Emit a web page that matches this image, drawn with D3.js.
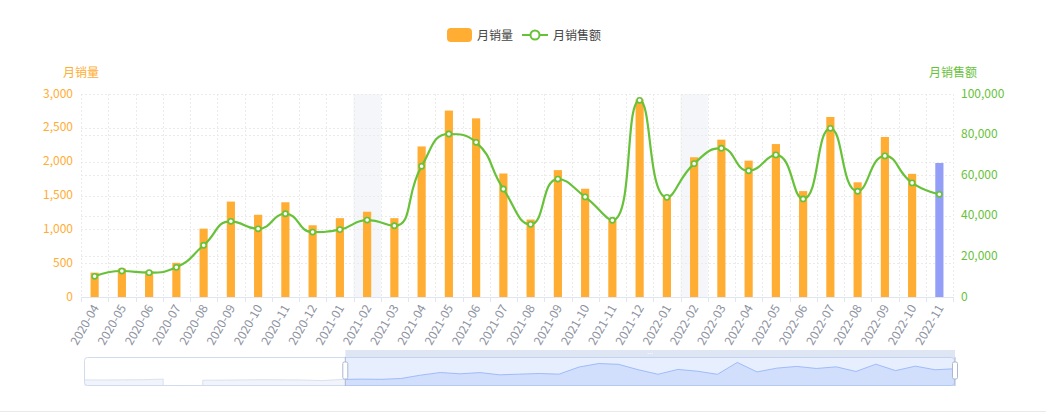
<!DOCTYPE html>
<html><head><meta charset="utf-8">
<script src="https://cdn.jsdelivr.net/npm/d3@7/dist/d3.min.js"></script>
<style>
html,body{margin:0;padding:0;background:#fff;}
svg{display:block;font-family:"Noto Sans CJK SC","Noto Sans",sans-serif;}
</style></head><body>
<svg id="chart" width="1046" height="413"></svg>
<script>
// ---------- data ----------
const categories = ["2020-04","2020-05","2020-06","2020-07","2020-08","2020-09","2020-10","2020-11","2020-12",
  "2021-01","2021-02","2021-03","2021-04","2021-05","2021-06","2021-07","2021-08","2021-09","2021-10","2021-11","2021-12",
  "2022-01","2022-02","2022-03","2022-04","2022-05","2022-06","2022-07","2022-08","2022-09","2022-10","2022-11"];
const salesVolume = [360,420,385,505,1010,1410,1215,1400,1060,
  1165,1260,1165,2225,2755,2640,1825,1145,1875,1600,1140,2920,
  1500,2065,2325,2015,2260,1565,2660,1695,2365,1820,1980];
const salesAmount = [10200,12800,12000,14600,25500,37300,33600,41000,32000,
  33200,37900,35100,64400,80300,76200,53200,35800,58100,49300,37800,96900,
  49100,65700,73300,62200,70000,48300,83100,52100,69500,56200,50600];
// earlier months, only visible in the zoom slider's data shadow (null = missing)
const earlierVolume = [300,290,310,330,420,null,250,270,300,330,310,290,200];
const leftTicks = [0,500,1000,1500,2000,2500,3000];
const rightTicks = [0,20000,40000,60000,80000,100000];
const shadedMonths = ["2021-02","2022-02"];
const specialBarMonth = "2022-11";
const legendItems = ["月销量","月销售额"];
const axisNames = ["月销量","月销售额"];

// ---------- styles ----------
const ORANGE = "#ffad33", GREEN = "#67c23a", BLUE_BAR = "#939ef7";
const grid = {left:81, right:953, top:94, bottom:297};

const svg = d3.select("#chart");
const x = d3.scaleBand().domain(categories).range([grid.left, grid.right]).paddingInner(0).paddingOuter(0);
const yL = d3.scaleLinear().domain([0,3000]).range([grid.bottom, grid.top]);
const yR = d3.scaleLinear().domain([0,100000]).range([grid.bottom, grid.top]);
const fmt = d3.format(",");

// shaded bands
svg.append("g").selectAll("rect").data(shadedMonths).join("rect")
  .attr("x", d=>x(d)).attr("y", grid.top).attr("width", x.bandwidth()).attr("height", grid.bottom-grid.top)
  .attr("fill", "#f4f6fa");

// grid lines
const gl = svg.append("g").attr("stroke","#ebebeb").attr("stroke-dasharray","2,2").attr("stroke-width",1);
gl.selectAll(".hl").data(leftTicks.slice(1)).join("line")
  .attr("x1",grid.left).attr("x2",grid.right).attr("y1",d=>Math.round(yL(d))+0.5).attr("y2",d=>Math.round(yL(d))+0.5);
gl.selectAll(".hr").data(rightTicks.slice(1)).join("line")
  .attr("x1",grid.left).attr("x2",grid.right).attr("y1",d=>Math.round(yR(d))+0.5).attr("y2",d=>Math.round(yR(d))+0.5);
const bounds = categories.map(c=>x(c)).concat([grid.right]);
gl.selectAll(".v").data(bounds).join("line")
  .attr("x1",d=>Math.round(d)+0.5).attr("x2",d=>Math.round(d)+0.5).attr("y1",grid.top).attr("y2",grid.bottom);

// x axis line and ticks
svg.append("line").attr("x1",grid.left).attr("x2",grid.right).attr("y1",grid.bottom+0.5).attr("y2",grid.bottom+0.5)
  .attr("stroke","#e0e6f1");
svg.append("g").selectAll("line").data(bounds).join("line")
  .attr("x1",d=>Math.round(d)+0.5).attr("x2",d=>Math.round(d)+0.5).attr("y1",grid.bottom).attr("y2",grid.bottom+5)
  .attr("stroke","#e0e6f1");

// bars
const bw = x.bandwidth()*0.3;
svg.append("g").selectAll("rect").data(categories).join("rect")
  .attr("x", (d)=>x(d)+x.bandwidth()/2-bw/2)
  .attr("y", (d,i)=>yL(salesVolume[i]))
  .attr("width", bw)
  .attr("height", (d,i)=>grid.bottom-yL(salesVolume[i]))
  .attr("fill", d=> d===specialBarMonth ? BLUE_BAR : ORANGE);

// smooth line (ECharts-style smoothing)
function smoothPath(pts, smooth){
  const p = d3.path();
  let cpx0, cpy0, prevX, prevY;
  const clamp=(v,a,b)=>Math.max(Math.min(v,Math.max(a,b)),Math.min(a,b));
  for(let i=0;i<pts.length;i++){
    const [px,py]=pts[i];
    if(i===0){p.moveTo(px,py);cpx0=px;cpy0=py;}
    else{
      let cpx1,cpy1,ncx,ncy;
      if(i===pts.length-1){cpx1=px;cpy1=py;ncx=px;ncy=py;}
      else{
        const [nx,ny]=pts[i+1];
        let vx=nx-prevX, vy=ny-prevY;
        const lp=Math.hypot(px-prevX,py-prevY), ln=Math.hypot(nx-px,ny-py);
        const r=ln/(ln+lp);
        ncx=px+vx*smooth*r; ncy=py+vy*smooth*r;
        ncx=clamp(ncx,nx,px); ncy=clamp(ncy,ny,py);
        vx=ncx-px; vy=ncy-py;
        cpx1=px-vx*lp/ln; cpy1=py-vy*lp/ln;
        cpx1=clamp(cpx1,prevX,px); cpy1=clamp(cpy1,prevY,py);
        vx=px-cpx1; vy=py-cpy1;
        ncx=px+vx*ln/lp; ncy=py+vy*ln/lp;
      }
      p.bezierCurveTo(cpx0,cpy0,cpx1,cpy1,px,py);
      cpx0=ncx;cpy0=ncy;
    }
    prevX=px;prevY=py;
  }
  return p.toString();
}
const linePts = categories.map((c,i)=>[x(c)+x.bandwidth()/2, yR(salesAmount[i])]);
svg.append("path").attr("d", smoothPath(linePts,0.5)).attr("fill","none").attr("stroke",GREEN).attr("stroke-width",2.2);
svg.append("g").selectAll("circle").data(linePts).join("circle")
  .attr("cx",d=>d[0]).attr("cy",d=>d[1]).attr("r",2.6)
  .attr("fill","#fff").attr("stroke",GREEN).attr("stroke-width",1.6);

// y axis labels
svg.append("g").selectAll("text").data(leftTicks).join("text")
  .attr("x",grid.left-8).attr("y",d=>yL(d)-2).attr("text-anchor","end").attr("dominant-baseline","central")
  .attr("font-size",12).attr("fill",ORANGE).text(d=>fmt(d));
svg.append("g").selectAll("text").data(rightTicks).join("text")
  .attr("x",grid.right+8).attr("y",d=>yR(d)-2).attr("text-anchor","start").attr("dominant-baseline","central")
  .attr("font-size",12).attr("fill",GREEN).text(d=>fmt(d));
svg.append("text").attr("x",grid.left).attr("y",71).attr("text-anchor","middle").attr("dominant-baseline","central")
  .attr("font-size",12).attr("fill",ORANGE).text(axisNames[0]);
svg.append("text").attr("x",grid.right).attr("y",71).attr("text-anchor","middle").attr("dominant-baseline","central")
  .attr("font-size",12).attr("fill",GREEN).text(axisNames[1]);

// x labels rotated
svg.append("g").selectAll("text").data(categories).join("text")
  .attr("transform",d=>`translate(${x(d)+x.bandwidth()/2},${grid.bottom+8}) rotate(-60)`)
  .attr("text-anchor","end").attr("dominant-baseline","central")
  .attr("font-size",12).attr("fill","#8c91a0").text(d=>d);

// legend
const lg = svg.append("g");
lg.append("rect").attr("x",447).attr("y",28).attr("width",25).attr("height",14).attr("rx",4).attr("fill",ORANGE);
lg.append("text").attr("x",477).attr("y",34).attr("dominant-baseline","central").attr("font-size",12).attr("fill","#444").text(legendItems[0]);
lg.append("line").attr("x1",522).attr("x2",548).attr("y1",35).attr("y2",35).attr("stroke",GREEN).attr("stroke-width",2);
lg.append("circle").attr("cx",535).attr("cy",35).attr("r",4.5).attr("fill","#fff").attr("stroke",GREEN).attr("stroke-width",2);
lg.append("text").attr("x",553).attr("y",34).attr("dominant-baseline","central").attr("font-size",12).attr("fill","#444").text(legendItems[1]);

// ---------- data zoom slider ----------
const dz = {left:84, right:955, top:357, bottom:386};
const allVol = earlierVolume.concat(salesVolume);
const sx = d3.scaleLinear().domain([0, allVol.length-1]).range([dz.left, dz.right]);
const vals = allVol.filter(v=>v!=null);
const mn = d3.min(vals), mx = d3.max(vals), off=(mx-mn)*0.3;
const sy = d3.scaleLinear().domain([mn-off, mx+off]).range([dz.bottom, dz.top]);
const selStartX = dz.left + (dz.right-dz.left)*0.3;

function shadowPts(){
  const area=[]; let lastEmpty=false;
  allVol.forEach((v,i)=>{
    const empty = v==null;
    const X = sx(i), Y = empty ? dz.bottom : sy(v);
    if(empty && !lastEmpty && i){ area.push([area[area.length-1][0], dz.bottom]); }
    else if(!empty && lastEmpty){ area.push([X, dz.bottom]); }
    area.push([X,Y]); lastEmpty=empty;
  });
  return area;
}
const sp = shadowPts();
const areaPoly = [[dz.left,dz.bottom]].concat(sp).concat([[dz.right,dz.bottom]]);
const defs = svg.append("defs");
defs.append("clipPath").attr("id","unsel").append("rect").attr("x",dz.left).attr("y",dz.top).attr("width",selStartX-dz.left).attr("height",dz.bottom-dz.top);
defs.append("clipPath").attr("id","sel").append("rect").attr("x",selStartX).attr("y",dz.top).attr("width",dz.right-selStartX).attr("height",dz.bottom-dz.top);

svg.append("rect").attr("x",dz.left+0.5).attr("y",dz.top+0.5).attr("width",dz.right-dz.left-1).attr("height",dz.bottom-dz.top-1)
  .attr("rx",3).attr("fill","none").attr("stroke","#d2dbee");
const lineGen = d3.line();
svg.append("path").attr("clip-path","url(#unsel)").attr("d",lineGen(areaPoly)+"Z").attr("fill","#d2dbee").attr("fill-opacity",0.3);
svg.append("path").attr("clip-path","url(#unsel)").attr("d",lineGen(sp)).attr("fill","none").attr("stroke","#d2dbee").attr("stroke-width",0.8);
svg.append("rect").attr("x",selStartX).attr("y",dz.top).attr("width",dz.right-selStartX).attr("height",dz.bottom-dz.top)
  .attr("fill","rgba(135,175,274,0.2)");
svg.append("path").attr("clip-path","url(#sel)").attr("d",lineGen(areaPoly)+"Z").attr("fill","#8fb0f7").attr("fill-opacity",0.25);
svg.append("path").attr("clip-path","url(#sel)").attr("d",lineGen(sp)).attr("fill","none").attr("stroke","#8fb0f7").attr("stroke-width",0.8);
svg.append("rect").attr("x",selStartX).attr("y",dz.top-7).attr("width",dz.right-selStartX).attr("height",7)
  .attr("fill","#d2dbee").attr("opacity",0.7);
const midX=(selStartX+dz.right)/2;
[-2,0,2].forEach(dx=>{svg.append("circle").attr("cx",midX+dx).attr("cy",dz.top-3.5).attr("r",0.6).attr("fill","#fff");});
[selStartX, dz.right].forEach(hx=>{
  svg.append("line").attr("x1",hx).attr("x2",hx).attr("y1",dz.top).attr("y2",dz.bottom).attr("stroke","#acb8d1").attr("stroke-width",1);
  svg.append("rect").attr("x",hx-2.5).attr("y",362).attr("width",5).attr("height",17).attr("rx",1.5)
    .attr("fill","#fff").attr("stroke","#acb8d1").attr("stroke-width",1);
});
svg.append("line").attr("x1",0).attr("x2",1046).attr("y1",411.5).attr("y2",411.5).attr("stroke","#e8e8ee");
</script></body></html>
